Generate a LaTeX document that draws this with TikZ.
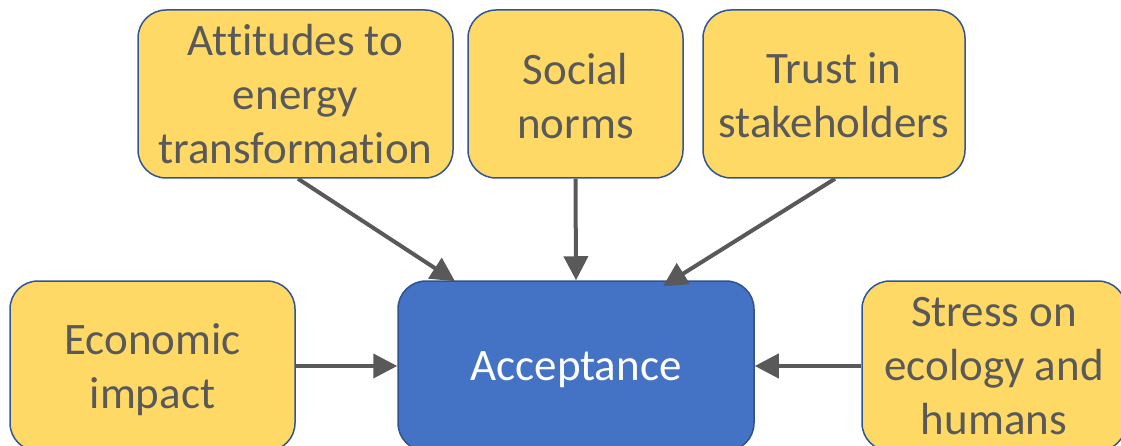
\documentclass[tikz,border=0pt]{standalone}
\usepackage{fontspec}
\setmainfont[Ligatures=NoCommon]{Carlito}
\usetikzlibrary{arrows.meta}
\definecolor{boxyellow}{HTML}{FFD966}
\definecolor{boxedge}{HTML}{2F5597}
\definecolor{accblue}{HTML}{4472C4}
\definecolor{accedge}{HTML}{2F528F}
\definecolor{txtgray}{HTML}{595959}
\definecolor{arrgray}{HTML}{595959}
\begin{document}
\begin{tikzpicture}[x=1pt,y=-1pt,
  factor/.style={draw=boxedge, line width=1.5pt, fill=boxyellow, rounded corners=28pt, inner sep=0pt},
  accbox/.style={draw=accedge, line width=1.5pt, fill=accblue, rounded corners=28pt, inner sep=0pt},
  ftext/.style={text=txtgray, align=center, inner sep=0pt, font=\fontsize{45}{54}\selectfont},
  atext/.style={text=white, align=center, inner sep=0pt, font=\fontsize{45}{54}\selectfont},
  link/.style={draw=arrgray, line width=4pt, -{Triangle[length=24pt,width=24pt]}}]
\useasboundingbox (0,0) rectangle (1121,446);
\node[factor, minimum width=315pt, minimum height=168pt] (att) at (295.5,94) {};
\node[factor, minimum width=215pt, minimum height=168pt] (soc) at (575.5,94) {};
\node[factor, minimum width=262pt, minimum height=168pt] (tru) at (834,94) {};
\node[factor, minimum width=285pt, minimum height=170pt] (eco) at (152.5,366) {};
\node[accbox, minimum width=356pt, minimum height=170pt] (acc) at (576,366) {};
\node[factor, minimum width=264pt, minimum height=170pt] (str) at (994,366) {};
\node[ftext] (attT) at (att.center) {Attitudes to\\energy\\transformation};
\node[ftext] (socT) at ([yshift=-2pt]soc.center) {Social\\norms};
\node[ftext] (truT) at ([yshift=-1pt]tru.center) {Trust in\\stakeholders};
\node[ftext] (ecoT) at ([yshift=-4pt]eco.center) {Economic\\impact};
\node[atext] (accT) at ([yshift=-4pt]acc.center) {Acceptance};
\node[ftext] (strT) at (str.center) {Stress on\\ecology and\\humans};
\draw[link] ([xshift=2.5pt]att.south) -- ([xshift=-121pt,yshift=-1pt]acc.north);
\draw[link] (soc.south) -- (acc.north);
\draw[link] ([xshift=1pt]tru.south) -- ([xshift=87pt,yshift=-6pt]acc.north);
\draw[link] (eco.east) -- (acc.west);
\draw[link] (str.west) -- (acc.east);
\end{tikzpicture}
\end{document}
